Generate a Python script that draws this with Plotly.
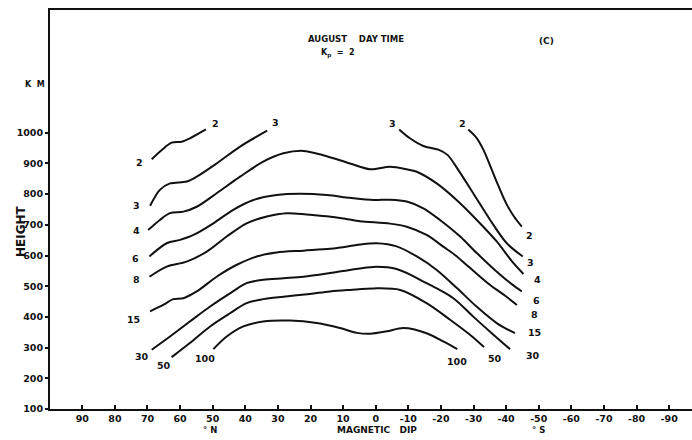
import plotly.graph_objects as go

# Electron-density contours (labels in units of 10^4 el/cc) vs magnetic dip and height.
# Curves 2 and 3 are broken at the top, so they are kept as two segments each.
dip_2a = [68.7, 65.6, 62.6, 59.5, 57.0, 52.1]
km_2a = [914, 944, 968, 971, 982, 1011]

dip_2b = [-28.4, -30.8, -33.0, -35.2, -37.5, -40.0, -42.4, -44.8]
km_2b = [1011, 985, 945, 890, 830, 770, 727, 694]

dip_3a = [69.2, 66.2, 63.1, 58.0, 54.9, 48.8, 41.6, 33.3]
km_3a = [762, 814, 835, 841, 857, 900, 955, 1007]

dip_3b = [-7.2, -10.5, -14.6, -19.2, -22.0, -25.0, -29.9, -35.1, -40.2, -45.1]
km_3b = [1011, 982, 957, 945, 928, 884, 803, 716, 640, 597]

dip_4 = [69.8, 66.2, 63.1, 59.0, 54.9, 48.8, 41.6, 34.5, 28.3, 22.2, 16.1, 7.9,
         1.7, -4.4, -9.5, -12.6, -18.7, -24.8, -31.0, -37.1, -41.8, -45.3]
km_4 = [683, 716, 738, 743, 759, 803, 857, 906, 933, 941, 927, 900,
        881, 889, 881, 873, 835, 781, 716, 646, 581, 540]

dip_6 = [69.4, 64.1, 60.0, 55.9, 49.8, 43.7, 37.5, 30.4, 23.2, 15.0, 7.9, 0.7,
         -4.4, -9.5, -14.6, -19.7, -25.9, -31.0, -38.1, -41.8, -44.8]
km_6 = [597, 640, 651, 667, 705, 749, 781, 797, 801, 797, 788, 781,
        782, 776, 754, 716, 662, 608, 538, 506, 483]

dip_8 = [69.4, 64.1, 58.0, 51.8, 45.7, 39.6, 33.4, 27.3, 21.2, 15.0, 9.4, 4.8,
         -4.4, -9.5, -15.6, -20.7, -24.3, -28.9, -35.1, -39.7, -43.3]
km_8 = [531, 564, 580, 613, 662, 705, 727, 738, 734, 728, 720, 712,
        704, 694, 667, 629, 602, 560, 504, 469, 439]

dip_15 = [69.2, 65.2, 62.1, 59.0, 54.9, 48.8, 42.6, 36.5, 30.4, 22.2, 14.0, 11.0,
          4.8, -0.3, -6.4, -12.6, -18.7, -24.8, -31.0, -37.1, -42.7]
km_15 = [418, 439, 458, 461, 483, 531, 570, 597, 610, 616, 622, 626,
         636, 640, 630, 597, 553, 495, 433, 380, 347]

dip_30 = [68.7, 63.1, 57.0, 50.8, 44.7, 39.6, 34.5, 28.3, 22.2, 14.0, 7.9, 0.7,
          -6.4, -15.6, -23.8, -29.9, -36.1, -41.2]
km_30 = [293, 336, 385, 434, 477, 510, 521, 526, 531, 543, 553, 563,
         556, 510, 461, 401, 342, 295]

dip_50 = [62.6, 57.0, 50.8, 44.7, 39.6, 34.5, 28.3, 20.2, 14.0, 7.9, 0.7,
          -7.5, -15.6, -22.8, -28.9, -33.2]
km_50 = [269, 315, 369, 412, 445, 458, 466, 475, 483, 488, 493,
         488, 445, 391, 342, 302]

dip_100 = [49.8, 45.7, 40.6, 34.5, 26.3, 18.1, 11.0, 5.8, 1.7, -3.4, -8.5,
           -15.6, -20.7, -25.0]
km_100 = [295, 336, 369, 385, 388, 380, 364, 348, 345, 353, 364,
          347, 320, 295]

# Contour value drawn at each end of a segment
segments = [
    ("2", dip_2a, km_2a), ("2", dip_2b, km_2b),
    ("3", dip_3a, km_3a), ("3", dip_3b, km_3b),
    ("4", dip_4, km_4), ("6", dip_6, km_6), ("8", dip_8, km_8),
    ("15", dip_15, km_15), ("30", dip_30, km_30),
    ("50", dip_50, km_50), ("100", dip_100, km_100),
]

# Pixel offsets of the labels from the segment start / end: (sx, sy, ex, ey)
label_offsets = [
    (-12, -3, 10, 6), (-6, 6, 8, -9),
    (-14, 0, 8, 8), (-7, 6, 8, -6),
    (-12, 0, 14, -6), (-14, -2, 15, -9), (-13, -3, 18, -10),
    (-17, -8, 20, 1), (-10, -7, 23, -6),
    (-8, -8, 11, -11), (-8, -9, 0, -12),
]

dip_ticks = [90, 80, 70, 60, 50, 40, 30, 20, 10, 0,
             -10, -20, -30, -40, -50, -60, -70, -80, -90]
dip_tick_text = ["90", "80", "70", "60", "50", "40", "30", "20", "10", "0",
                 "-10", "-20", "-30", "-40", "-50", "-60", "-70", "-80", "-90"]
height_ticks = [100, 200, 300, 400, 500, 600, 700, 800, 900, 1000]

FONT = "DejaVu Sans"
INK = "#111111"

fig = go.Figure()
annotations = []
for (name, xs, ys), (sx, sy, ex, ey) in zip(segments, label_offsets):
    fig.add_trace(go.Scatter(
        x=xs, y=ys, mode="lines",
        line=dict(color=INK, width=2, shape="spline", smoothing=0.9),
        hoverinfo="skip", showlegend=False,
    ))
    for (px, py, dx, dy) in ((xs[0], ys[0], sx, sy), (xs[-1], ys[-1], ex, ey)):
        annotations.append(dict(
            x=px, y=py, xref="x", yref="y", text=name, showarrow=False,
            xshift=dx, yshift=dy, xanchor="center", yanchor="middle",
            font=dict(family=FONT, size=9.5, color=INK, weight="bold"),
        ))

W, H, L, R, T, B = 692, 440, 50, 0, 10, 31
pw, ph = W - L - R, H - T - B


def px_to_paper(x, y):
    return (x - L) / pw, (H - B - y) / ph


def paper_text(text, x, y, size, angle=0):
    # place text by pixel position in the 692x440 page
    px, py = px_to_paper(x, y)
    return dict(
        x=px, y=py, xref="paper", yref="paper", text=text, showarrow=False,
        xanchor="center", yanchor="middle", textangle=angle,
        font=dict(family=FONT, size=size, color=INK, weight="bold"),
    )


for text, (x, y), size, ang in [
    ("AUGUST&nbsp;&nbsp;&nbsp;&nbsp;DAY&nbsp;TIME", (356, 39), 8.5, 0),
    ("K<sub>p</sub>&nbsp;&nbsp;=&nbsp;&nbsp;2", (338, 53), 8, 0),
    ("(C)", (546, 41), 9, 0),
    ("K&nbsp;&nbsp;M", (35, 84), 8, 0),
    ("HEIGHT", (21, 231), 12, -90),
    ("°&nbsp;N", (210, 430), 8.5, 0),
    ("MAGNETIC&nbsp;&nbsp;&nbsp;DIP", (377, 430), 9, 0),
    ("°&nbsp;S", (538, 430), 8.5, 0),
]:
    annotations.append(paper_text(text, x, y, size, ang))

fig.update_layout(
    width=W, height=H,
    margin=dict(l=L, r=R, t=T, b=B, pad=0),
    paper_bgcolor="white", plot_bgcolor="white",
    showlegend=False,
    annotations=annotations,
    xaxis=dict(
        range=[99.9, -97.0], showgrid=False, zeroline=False,
        showline=True, linecolor=INK, linewidth=2, mirror=True,
        ticks="inside", ticklen=4, tickwidth=1.5, tickcolor=INK,
        tickvals=dip_ticks, ticktext=dip_tick_text,
        tickfont=dict(family=FONT, size=9.5, color=INK, weight="bold"),
    ),
    yaxis=dict(
        range=[100, 1400], showgrid=False, zeroline=False,
        showline=True, linecolor=INK, linewidth=2,
        ticks="outside", ticklen=3, tickwidth=1.5, tickcolor=INK,
        tickvals=height_ticks,
        tickfont=dict(family=FONT, size=9.5, color=INK, weight="bold"),
    ),
)

fig.write_html("out.html")
